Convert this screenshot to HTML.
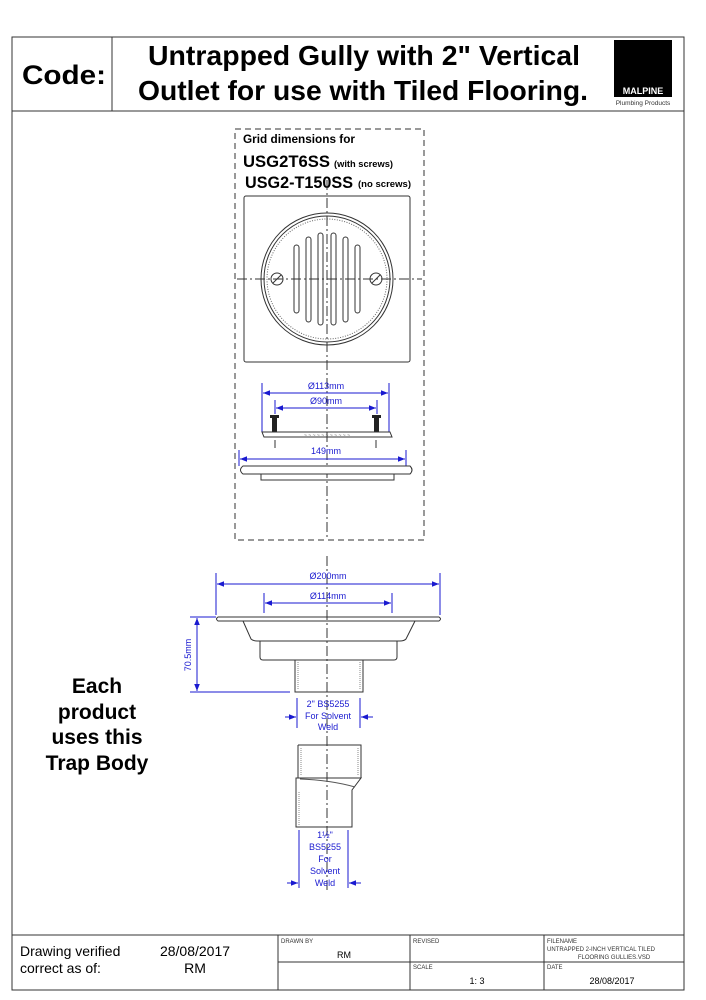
<!DOCTYPE html>
<html><head><meta charset="utf-8"><style>
html,body{margin:0;padding:0;background:#fff;}
svg{display:block;font-family:"Liberation Sans",Arial,sans-serif;}
</style></head><body>
<svg width="706" height="1000" viewBox="0 0 706 1000" xmlns="http://www.w3.org/2000/svg">
<defs>
<marker id="a" viewBox="0 0 10 10" refX="10" refY="5" markerWidth="7" markerHeight="7" orient="auto-start-reverse"><path d="M0,1 L10,5 L0,9 z" fill="#1a1ad0"/></marker>
</defs>
<rect x="12" y="37" width="672" height="953" fill="none" stroke="#333" stroke-width="1"/>
<line x1="12" y1="111" x2="684" y2="111" stroke="#333"/>
<line x1="112" y1="37" x2="112" y2="111" stroke="#333"/>
<text x="22" y="84" font-size="27" font-weight="bold" textLength="84" lengthAdjust="spacingAndGlyphs">Code:</text>
<text x="148" y="65" font-size="28" font-weight="bold" textLength="432" lengthAdjust="spacingAndGlyphs">Untrapped Gully with 2" Vertical</text>
<text x="138" y="100" font-size="28" font-weight="bold" textLength="450" lengthAdjust="spacingAndGlyphs">Outlet for use with Tiled Flooring.</text>
<rect x="614" y="40" width="58" height="57" fill="#000"/>
<text x="643" y="94" font-size="9" font-weight="bold" fill="#fff" text-anchor="middle">MALPINE</text>
<text x="643" y="105" font-size="6.5" fill="#333" text-anchor="middle">Plumbing Products</text>

<rect x="235" y="129" width="189" height="411" fill="none" stroke="#333" stroke-dasharray="6,4"/>
<text x="243" y="143" font-size="11.5" font-weight="bold" textLength="112" lengthAdjust="spacingAndGlyphs">Grid dimensions for</text>
<text x="243" y="167" font-size="16.5" font-weight="bold" textLength="87" lengthAdjust="spacingAndGlyphs">USG2T6SS</text>
<text x="334" y="167" font-size="9" font-weight="bold" textLength="59" lengthAdjust="spacingAndGlyphs">(with screws)</text>
<text x="245" y="188" font-size="16.5" font-weight="bold" textLength="108" lengthAdjust="spacingAndGlyphs">USG2-T150SS</text>
<text x="358" y="187" font-size="9" font-weight="bold" textLength="53" lengthAdjust="spacingAndGlyphs">(no screws)</text>
<rect x="244" y="196" width="166" height="166" rx="2" fill="none" stroke="#333"/>
<circle cx="327" cy="279" r="66" fill="none" stroke="#333"/>
<circle cx="327" cy="279" r="63" fill="none" stroke="#333"/>
<circle cx="327" cy="279" r="60" fill="none" stroke="#666" stroke-dasharray="1,1.5"/>
<g fill="none" stroke="#333">
<rect x="294" y="245" width="5" height="68" rx="2.5"/>
<rect x="306" y="237" width="5" height="85" rx="2.5"/>
<rect x="318" y="233" width="5" height="92" rx="2.5"/>
<rect x="331" y="233" width="5" height="92" rx="2.5"/>
<rect x="343" y="237" width="5" height="85" rx="2.5"/>
<rect x="355" y="245" width="5" height="68" rx="2.5"/>
<circle cx="277" cy="279" r="6"/><line x1="273" y1="283" x2="281" y2="275"/>
<circle cx="376" cy="279" r="6"/><line x1="372" y1="283" x2="380" y2="275"/>
</g>
<g stroke="#333" stroke-dasharray="10,3,2,3">
<line x1="327" y1="180" x2="327" y2="540"/>
<line x1="237" y1="279" x2="422" y2="279"/>
<line x1="327" y1="556" x2="327" y2="890"/>
</g>

<g stroke="#1a1ad0" fill="none">
<line x1="262" y1="383" x2="262" y2="432"/><line x1="389" y1="383" x2="389" y2="432"/>
<line x1="263" y1="393" x2="388" y2="393" marker-start="url(#a)" marker-end="url(#a)"/>
<line x1="275" y1="400" x2="275" y2="414"/><line x1="377" y1="400" x2="377" y2="414"/>
<line x1="276" y1="408" x2="376" y2="408" marker-start="url(#a)" marker-end="url(#a)"/>
<line x1="239" y1="450" x2="239" y2="466"/><line x1="406" y1="450" x2="406" y2="466"/>
<line x1="240" y1="459" x2="405" y2="459" marker-start="url(#a)" marker-end="url(#a)"/>
</g>
<g font-size="9" fill="#1a1ad0" text-anchor="middle">
<text x="326" y="389">Ø113mm</text><text x="326" y="404">Ø90mm</text><text x="326" y="454">149mm</text>
</g>
<rect x="272" y="416" width="5" height="16" fill="#222"/><rect x="270" y="415" width="9" height="3" fill="#222"/>
<rect x="374" y="416" width="5" height="16" fill="#222"/><rect x="372" y="415" width="9" height="3" fill="#222"/>
<path d="M262,432 L390,432 L392,437 L264,437 Z" fill="none" stroke="#333"/>
<text x="327" y="437" font-size="5" fill="#555" text-anchor="middle">~ ~ ~ ~ ~ ~ ~ ~ ~ ~ ~</text>
<line x1="275" y1="440" x2="275" y2="448" stroke="#333"/><line x1="376" y1="440" x2="376" y2="448" stroke="#333"/>
<path d="M243,466 L410,466 Q414,470 410,474 L243,474 Q238,470 243,466 Z" fill="#fff" stroke="#333"/>
<path d="M261,474 L261,480 L394,480 L394,474" fill="none" stroke="#333"/>

<g stroke="#1a1ad0" fill="none">
<line x1="216" y1="573" x2="216" y2="615"/><line x1="440" y1="573" x2="440" y2="615"/>
<line x1="217" y1="584" x2="439" y2="584" marker-start="url(#a)" marker-end="url(#a)"/>
<line x1="264" y1="593" x2="264" y2="613"/><line x1="392" y1="593" x2="392" y2="613"/>
<line x1="265" y1="603" x2="391" y2="603" marker-start="url(#a)" marker-end="url(#a)"/>
<line x1="190" y1="617" x2="216" y2="617"/><line x1="190" y1="692" x2="290" y2="692"/>
<line x1="197" y1="618" x2="197" y2="691" marker-start="url(#a)" marker-end="url(#a)"/>
<line x1="297" y1="698" x2="297" y2="728"/><line x1="360" y1="698" x2="360" y2="728"/>
<line x1="285" y1="717" x2="296" y2="717" marker-end="url(#a)"/>
<line x1="373" y1="717" x2="361" y2="717" marker-end="url(#a)"/>
<line x1="299" y1="830" x2="299" y2="888"/><line x1="348" y1="830" x2="348" y2="888"/>
<line x1="287" y1="883" x2="298" y2="883" marker-end="url(#a)"/>
<line x1="361" y1="883" x2="349" y2="883" marker-end="url(#a)"/>
</g>
<g font-size="9" fill="#1a1ad0" text-anchor="middle">
<text x="328" y="579">Ø200mm</text><text x="328" y="599">Ø114mm</text>
<text transform="translate(191,655) rotate(-90)">70.5mm</text>
<text x="328" y="707">2" BS5255</text><text x="328" y="719">For Solvent</text><text x="328" y="730">Weld</text>
<text x="325" y="838">1½"</text><text x="325" y="850">BS5255</text><text x="325" y="862">For</text><text x="325" y="874">Solvent</text><text x="325" y="886">Weld</text>
</g>
<g fill="none" stroke="#333">
<path d="M218,617 L439,617 Q442,619 439,621 L218,621 Q215,619 218,617 Z"/>
<path d="M243,621 L251,639 Q253,641 257,641 L400,641 Q404,641 406,639 L415,621"/>
<path d="M260,641 L260,657 Q260,660 263,660 L394,660 Q397,660 397,657 L397,641"/>
<path d="M295,660 L295,692 L363,692 L363,660"/>
<line x1="298" y1="662" x2="298" y2="690" stroke="#888" stroke-dasharray="1,1"/>
<line x1="360" y1="662" x2="360" y2="690" stroke="#888" stroke-dasharray="1,1"/>
<path d="M298,745 L361,745 L361,778"/><line x1="298" y1="745" x2="298" y2="778"/>
<path d="M296,778 L361,778 L352,790 L352,827 L296,827 Z"/>
<path d="M300,779 Q330,780 355,787" stroke="#555"/>
<line x1="301" y1="748" x2="301" y2="776" stroke="#888" stroke-dasharray="1,1"/>
<line x1="358" y1="748" x2="358" y2="776" stroke="#888" stroke-dasharray="1,1"/>
<line x1="299" y1="792" x2="299" y2="825" stroke="#888" stroke-dasharray="1,1"/>
</g>

<g font-size="21" font-weight="bold" text-anchor="middle">
<text x="97" y="693">Each</text><text x="97" y="719">product</text><text x="97" y="744">uses this</text><text x="97" y="770">Trap Body</text>
</g>

<g stroke="#333" fill="none">
<line x1="12" y1="935" x2="684" y2="935"/>
<line x1="278" y1="935" x2="278" y2="990"/>
<line x1="410" y1="935" x2="410" y2="990"/>
<line x1="544" y1="935" x2="544" y2="990"/>
<line x1="278" y1="962" x2="684" y2="962"/>
</g>
<g font-size="14">
<text x="20" y="956">Drawing verified</text><text x="20" y="973">correct as of:</text>
<text x="195" y="956" text-anchor="middle">28/08/2017</text><text x="195" y="973" text-anchor="middle">RM</text>
</g>
<g font-size="6" fill="#333">
<text x="281" y="943">DRAWN BY</text><text x="413" y="943">REVISED</text><text x="547" y="943">FILENAME</text>
<text x="547" y="951">UNTRAPPED 2-INCH VERTICAL TILED</text>
<text x="614" y="959" text-anchor="middle">FLOORING GULLIES.VSD</text>
<text x="413" y="969">SCALE</text><text x="547" y="969">DATE</text>
</g>
<g font-size="9">
<text x="344" y="958" text-anchor="middle">RM</text>
<text x="477" y="984" text-anchor="middle">1: 3</text>
<text x="612" y="984" text-anchor="middle">28/08/2017</text>
</g>
</svg>
</body></html>
